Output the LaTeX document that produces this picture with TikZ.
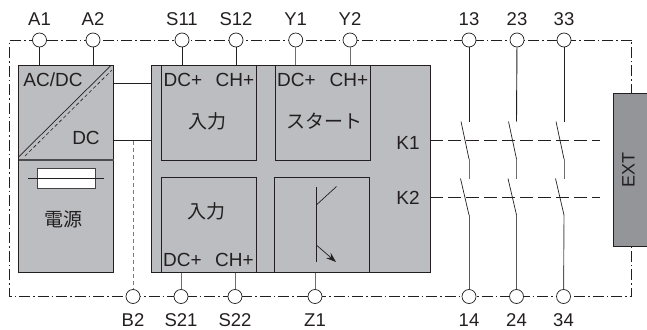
\documentclass[tikz,border=0pt]{standalone}
\usepackage{fontspec}
\setmainfont{Liberation Sans}
\newfontfamily\cjk{Noto Sans CJK JP}
\usetikzlibrary{arrows.meta,calc}
\definecolor{boxgray}{RGB}{187,189,192}
\definecolor{extgray}{RGB}{147,149,152}
\definecolor{ink}{RGB}{35,31,32}
\tikzset{
  every node/.style={text=ink,font=\fontsize{19}{22}\selectfont,inner sep=0pt},
  lab/.style={font=\fontsize{18.5}{22}\selectfont},
  jp/.style={font=\cjk\fontsize{19}{22}\selectfont},
  term/.style={circle,draw=ink,fill=white,line width=0.7pt,minimum size=14pt},
  block/.style={draw=ink,line width=0.9pt,fill=boxgray,inner sep=0pt,outer sep=0pt},
  sub/.style={draw=ink,line width=0.8pt,fill=boxgray,minimum width=95pt,minimum height=95pt},
  wire/.style={draw=ink,line width=0.7pt},
  gwire/.style={draw=ink!65,line width=1pt},
  border/.style={draw=ink,line width=0.6pt,dash pattern=on 11pt off 3pt on 1.5pt off 3pt},
  linkage/.style={draw=ink,line width=0.7pt,dash pattern=on 13pt off 5pt},
  grayd/.style={draw=ink!60,line width=0.9pt,dash pattern=on 4pt off 3pt},
  blade/.style={draw=ink,line width=0.7pt},
}
\begin{document}
\begin{tikzpicture}[x=1pt,y=-1pt]
\useasboundingbox (0,0) rectangle (647,329);
% border
\coordinate (tl) at (9.5,40);
\coordinate (tr) at (631.5,40);
\coordinate (bl) at (9.5,296.5);
\coordinate (br) at (631.5,296.5);
\draw[border] (tr) -- (tl) -- (bl) -- (br) -- (tr);
% main blocks
\path[block] (18.5,65) rectangle (113.5,272);
\path[block] (151,65) rectangle (430,272);
\coordinate (psuT1) at (39.5,65);
\coordinate (psuT2) at (93,65);
\coordinate (psuR1) at (113.5,83.5);
\coordinate (psuR2) at (113.5,140.5);
\coordinate (mainL1) at (151,83.5);
\coordinate (mainL2) at (151,140.5);
\draw[wire] (psuR1) -- (mainL1);
\draw[wire] (psuR2) -- (mainL2);
\draw[draw=ink!80,line width=1.2pt] (18.5,160) -- (113.5,160);
\draw[wire] (18.5,157) -- (111,65.5);
\draw[draw=ink,line width=0.6pt,dash pattern=on 3.5pt off 2.5pt] (25,156) -- (112,70);
\node (acdc) at (53,80) {AC/DC};
\node (dc) at (86,138) {DC};
% fuse
\node[draw=ink!85,line width=0.8pt,fill=white,minimum width=58pt,minimum height=19.5pt] (fuse) at (66,178.5) {};
\coordinate (fuseL) at (28,178.5);
\coordinate (fuseR) at (104,178.5);
\draw[wire] (fuseL) -- (fuseR);
\node[jp] (psu) at (63,219) {電源};
% sub blocks
\node[sub] (in1) at (209,112.5) {};
\node[sub] (st) at (322.5,112.5) {};
\node[sub] (in2) at (209,224.75) {};
\node[sub] (tr1) at (322,224.75) {};
\node (a) at (183,80) {DC+};
\node (b) at (235,80) {CH+};
\node (c) at (296.5,80) {DC+};
\node (d) at (349,80) {CH+};
\node (e) at (182.5,260) {DC+};
\node (f) at (234.5,260) {CH+};
\node[jp] (g) at (207,121) {入力};
\node[jp] (h) at (206.5,211) {入力};
\node[jp] (i) at (324,121) {スタート};
\node (k1) at (408,143) {K1};
\node (k2) at (408,198) {K2};
% transistor
\coordinate (q1) at (316.3,187);
\coordinate (q2) at (316.3,262);
\coordinate (q3) at (316.3,205);
\coordinate (q4) at (336.5,186.5);
\coordinate (q5) at (316.3,245);
\coordinate (q6) at (336,262);
\draw[draw=ink,line width=0.9pt] (q1) -- (q2);
\draw[wire] (q3) -- (q4);
\draw[wire,-{Stealth[length=10pt,width=7pt]}] (q5) -- (q6);
% EXT
\node[draw=ink,line width=0.8pt,fill=extgray,minimum width=36pt,minimum height=152.5pt,anchor=north west] (ext) at (612.5,93) {};
\node[rotate=90,font=\fontsize{18}{22}\selectfont] (extt) at (628.5,170) {EXT};
% top terminals
\foreach \n/\t/\x in {A1/A1/39.5,A2/A2/93,S11/S11/182,S12/S12/236,Y1/Y1/295.7,Y2/Y2/350,T13/13/469,T23/23/517,T33/33/564}{
  \node[term] (\n) at (\x,40) {};
  \node[lab] at (\x,19.5) {\t};
}
\foreach \n/\t/\x in {B2/B2/133,S21/S21/181,S22/S22/235,Z1/Z1/315,T14/14/469,T24/24/516.5,T34/34/563.5}{
  \node[term] (\n) at (\x,296.5) {};
  \node[lab] at (\x,320) {\t};
}
\draw[wire] (A1) -- (psuT1);
\draw[wire] (A2) -- (psuT2);
\draw[wire] (S11) -- (S11 |- in1.north);
\draw[wire] (S12) -- (S12 |- in1.north);
\draw[gwire] (Y1) -- (Y1 |- st.north);
\draw[gwire] (Y2) -- (Y2 |- st.north);
\draw[gwire] (S21) -- (S21 |- in2.south);
\draw[gwire] (S22) -- (S22 |- in2.south);
\draw[gwire] (Z1) -- (Z1 |- tr1.south);
% B2 dotted
\coordinate (b2top) at (133,140.5);
\draw[grayd] (b2top) -- (B2);
% contacts
\foreach \a/\b/\x in {T13/T14/469,T23/T24/516.5,T33/T34/564}{
  \coordinate (u1) at (\x,121.5);
  \coordinate (u2) at (\x,159);
  \coordinate (u3) at (\x,178.5);
  \coordinate (u4) at (\x,215);
  \draw[draw=ink,line width=0.9pt] (\a) -- (u1);
  \draw[blade] ($(u1)+(-8,0)$) -- (u2);
  \draw[draw=ink!65,line width=0.7pt] (u2) -- (u3);
  \draw[blade] ($(u3)+(-8.5,0)$) -- (u4);
  \draw[draw=ink!75,line width=0.9pt] (u4) -- (\b);
}
\coordinate (l1a) at (430,140.5);
\coordinate (l1b) at (600,140.5);
\coordinate (l2a) at (430,197.5);
\coordinate (l2b) at (600,197.5);
\draw[linkage] (l1a) -- (l1b);
\draw[linkage] (l2a) -- (l2b);
\end{tikzpicture}
\end{document}
